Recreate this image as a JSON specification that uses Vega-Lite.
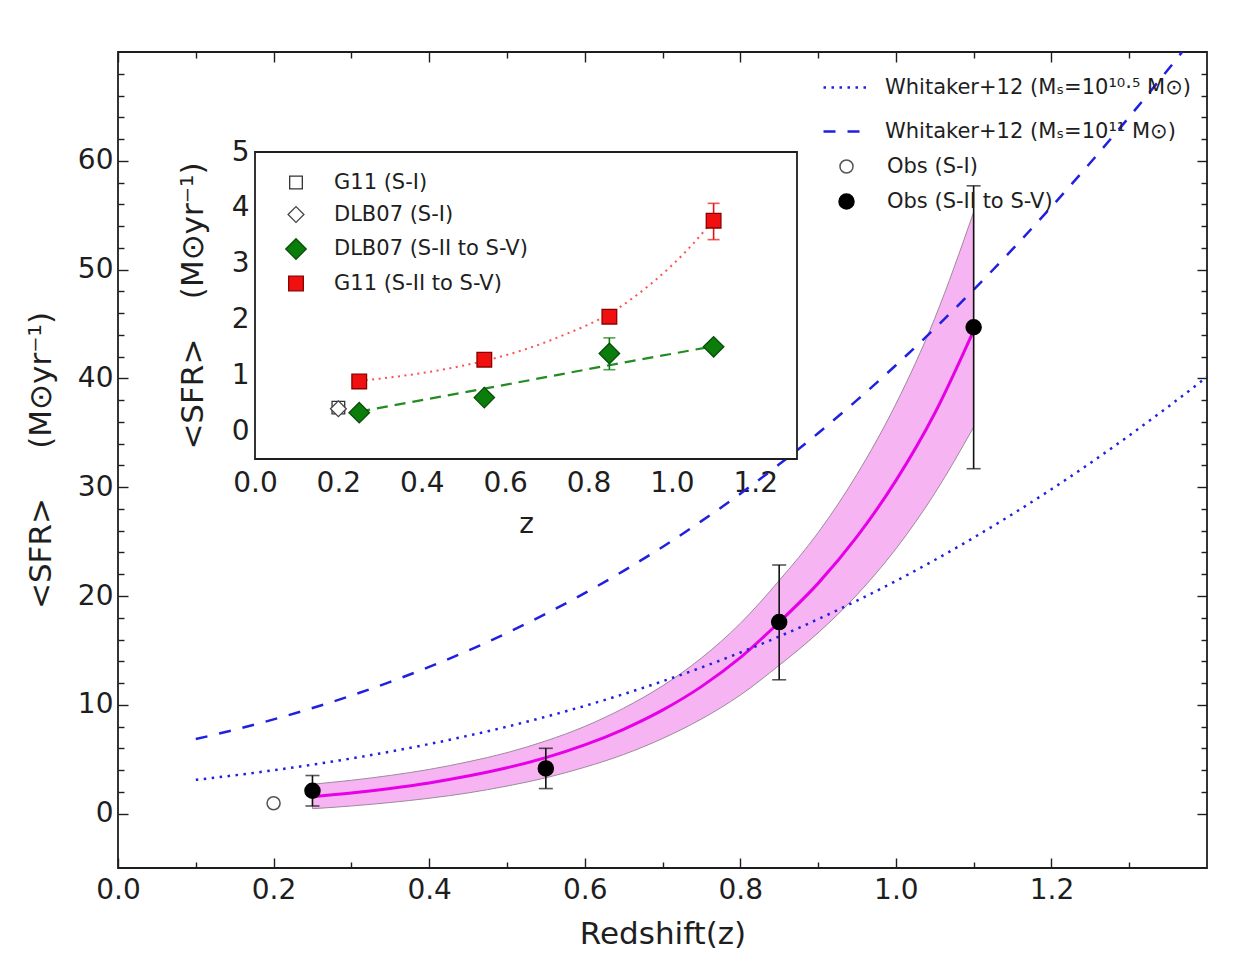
{
  "$schema": "https://vega.github.io/schema/vega-lite/v6.json",
  "width": 1089,
  "height": 816,
  "autosize": {"type": "none"},
  "padding": {"left": 118, "top": 52, "right": 32, "bottom": 112},
  "background": "#ffffff",
  "config": {
    "font": "DejaVu Sans",
    "view": {"stroke": "#1e1e1e", "strokeWidth": 1.8},
    "axis": {
      "grid": false, "domain": false, "zindex": 1,
      "tickColor": "#1e1e1e", "tickWidth": 1.4,
      "labelFont": "DejaVu Sans", "labelFontSize": 28, "labelColor": "#1e1e1e",
      "titleFont": "DejaVu Sans", "titleFontSize": 31, "titleFontWeight": "normal", "titleColor": "#1e1e1e",
      "labelFlush": false, "labelOverlap": false
    },
    "legend": {
      "zindex": 1, "orient": "none", "padding": 0,
      "labelFont": "DejaVu Sans", "labelFontSize": 21, "labelColor": "#1e1e1e", "labelLimit": 400
    }
  },
  "datasets": {
    "whitaker": [
      {"z": 0.10, "m105": 3.105, "m11": 6.849},
      {"z": 0.15, "m105": 3.521, "m11": 7.709},
      {"z": 0.20, "m105": 3.985, "m11": 8.658},
      {"z": 0.25, "m105": 4.499, "m11": 9.703},
      {"z": 0.30, "m105": 5.069, "m11": 10.85},
      {"z": 0.35, "m105": 5.698, "m11": 12.11},
      {"z": 0.40, "m105": 6.392, "m11": 13.48},
      {"z": 0.45, "m105": 7.153, "m11": 14.97},
      {"z": 0.50, "m105": 7.989, "m11": 16.60},
      {"z": 0.55, "m105": 8.903, "m11": 18.36},
      {"z": 0.60, "m105": 9.899, "m11": 20.26},
      {"z": 0.65, "m105": 10.98, "m11": 22.31},
      {"z": 0.70, "m105": 12.16, "m11": 24.51},
      {"z": 0.75, "m105": 13.43, "m11": 26.88},
      {"z": 0.80, "m105": 14.80, "m11": 29.40},
      {"z": 0.85, "m105": 16.28, "m11": 32.10},
      {"z": 0.90, "m105": 17.87, "m11": 34.96},
      {"z": 0.95, "m105": 19.57, "m11": 38.00},
      {"z": 1.00, "m105": 21.38, "m11": 41.21},
      {"z": 1.05, "m105": 23.31, "m11": 44.59},
      {"z": 1.10, "m105": 25.36, "m11": 48.15},
      {"z": 1.15, "m105": 27.53, "m11": 51.88},
      {"z": 1.20, "m105": 29.81, "m11": 55.77},
      {"z": 1.25, "m105": 32.22, "m11": 59.82},
      {"z": 1.30, "m105": 34.75, "m11": 64.03},
      {"z": 1.35, "m105": 37.39, "m11": 68.39},
      {"z": 1.40, "m105": 40.14, "m11": 72.88}
    ],
    "fit": [
      {"z": 0.25, "mid": 1.55, "lower": 0.45, "upper": 2.70},
      {"z": 0.30, "mid": 1.89, "lower": 0.70, "upper": 3.06},
      {"z": 0.35, "mid": 2.31, "lower": 1.02, "upper": 3.51},
      {"z": 0.40, "mid": 2.82, "lower": 1.41, "upper": 4.06},
      {"z": 0.45, "mid": 3.45, "lower": 1.90, "upper": 4.76},
      {"z": 0.50, "mid": 4.21, "lower": 2.53, "upper": 5.60},
      {"z": 0.55, "mid": 5.14, "lower": 3.29, "upper": 6.68},
      {"z": 0.60, "mid": 6.31, "lower": 4.26, "upper": 8.01},
      {"z": 0.65, "mid": 7.75, "lower": 5.43, "upper": 9.69},
      {"z": 0.70, "mid": 9.51, "lower": 6.90, "upper": 11.74},
      {"z": 0.75, "mid": 11.67, "lower": 8.69, "upper": 14.30},
      {"z": 0.80, "mid": 14.33, "lower": 10.89, "upper": 17.48},
      {"z": 0.85, "mid": 17.59, "lower": 13.63, "upper": 21.42},
      {"z": 0.90, "mid": 21.16, "lower": 16.61, "upper": 25.82},
      {"z": 0.95, "mid": 25.45, "lower": 20.11, "upper": 31.18},
      {"z": 1.00, "mid": 30.60, "lower": 24.33, "upper": 37.64},
      {"z": 1.05, "mid": 36.80, "lower": 29.44, "upper": 45.52},
      {"z": 1.10, "mid": 44.40, "lower": 35.52, "upper": 55.28}
    ],
    "obs": [
      {"z": 0.20, "sfr": 0.95, "lo": 0.70, "hi": 1.20, "set": "Obs (S-I)"},
      {"z": 0.25, "sfr": 2.10, "lo": 0.70, "hi": 3.50, "set": "Obs (S-II to S-V)"},
      {"z": 0.55, "sfr": 4.15, "lo": 2.30, "hi": 6.00, "set": "Obs (S-II to S-V)"},
      {"z": 0.85, "sfr": 17.60, "lo": 12.30, "hi": 22.85, "set": "Obs (S-II to S-V)"},
      {"z": 1.10, "sfr": 44.70, "lo": 31.70, "hi": 57.70, "set": "Obs (S-II to S-V)"}
    ],
    "frame": [{"x0": 0, "x1": 1.3, "y0": -0.5, "y1": 5}],
    "g11fit": [
      {"z": 0.25, "v": 0.900}, {"z": 0.30, "v": 0.939}, {"z": 0.35, "v": 0.986},
      {"z": 0.40, "v": 1.039}, {"z": 0.45, "v": 1.101}, {"z": 0.50, "v": 1.174},
      {"z": 0.55, "v": 1.258}, {"z": 0.60, "v": 1.356}, {"z": 0.65, "v": 1.469},
      {"z": 0.70, "v": 1.601}, {"z": 0.75, "v": 1.750}, {"z": 0.80, "v": 1.910},
      {"z": 0.85, "v": 2.100}, {"z": 0.90, "v": 2.350}, {"z": 0.95, "v": 2.640},
      {"z": 1.00, "v": 2.970}, {"z": 1.05, "v": 3.350}, {"z": 1.10, "v": 3.790}
    ],
    "dlbfit": [
      {"z": 0.25, "v": 0.35}, {"z": 0.55, "v": 0.76}, {"z": 0.85, "v": 1.18}, {"z": 1.10, "v": 1.52}
    ],
    "models": [
      {"z": 0.20, "sfr": 0.42, "set": "G11 (S-I)"},
      {"z": 0.20, "sfr": 0.40, "set": "DLB07 (S-I)"},
      {"z": 0.25, "sfr": 0.33, "set": "DLB07 (S-II to S-V)"},
      {"z": 0.55, "sfr": 0.60, "set": "DLB07 (S-II to S-V)"},
      {"z": 0.85, "sfr": 1.39, "set": "DLB07 (S-II to S-V)"},
      {"z": 1.10, "sfr": 1.51, "set": "DLB07 (S-II to S-V)"},
      {"z": 0.25, "sfr": 0.89, "set": "G11 (S-II to S-V)"},
      {"z": 0.55, "sfr": 1.28, "set": "G11 (S-II to S-V)"},
      {"z": 0.85, "sfr": 2.05, "set": "G11 (S-II to S-V)"},
      {"z": 1.10, "sfr": 3.77, "set": "G11 (S-II to S-V)"}
    ],
    "modelerr": [
      {"z": 0.20, "lo": 0.35, "hi": 0.48, "set": "G11 (S-I)"},
      {"z": 0.85, "lo": 1.10, "hi": 1.67, "set": "DLB07 (S-II to S-V)"},
      {"z": 1.10, "lo": 3.43, "hi": 4.08, "set": "G11 (S-II to S-V)"}
    ]
  },
  "layer": [
    {
      "resolve": {"axis": {"x": "independent", "y": "independent"}},
      "layer": [
        {
          "data": {"name": "fit"},
          "mark": {"type": "area", "interpolate": "monotone", "color": "#f7b4f2", "opacity": 1, "stroke": "#9c8a9c", "strokeWidth": 1},
          "encoding": {
            "x": {"field": "z", "type": "quantitative", "scale": {"domain": [0, 1.4], "nice": false, "zero": false},
                  "axis": {"orient": "bottom", "values": [0, 0.2, 0.4, 0.6, 0.8, 1.0, 1.2], "format": ".1f", "tickSize": -10, "labelPadding": 18, "title": "Redshift(z)", "titlePadding": 15}},
            "y": {"field": "lower", "type": "quantitative", "scale": {"domain": [-5, 70], "nice": false, "zero": false},
                  "axis": {"orient": "left", "values": [0, 10, 20, 30, 40, 50, 60], "format": "d", "tickSize": -10, "labelPadding": 15, "title": "<SFR>\u00a0\u00a0\u00a0\u00a0\u00a0(M⊙yr⁻¹)", "titlePadding": 20}},
            "y2": {"field": "upper"}
          }
        },
        {
          "data": {"name": "fit"},
          "mark": {"type": "line", "interpolate": "monotone", "color": "#e600e6", "strokeWidth": 3},
          "encoding": {
            "x": {"field": "z", "type": "quantitative", "scale": {"domain": [0, 1.4], "nice": false, "zero": false},
                  "axis": {"orient": "top", "values": [0, 0.2, 0.4, 0.6, 0.8, 1.0, 1.2], "labels": false, "tickSize": -10, "title": null}},
            "y": {"field": "mid", "type": "quantitative", "scale": {"domain": [-5, 70], "nice": false, "zero": false},
                  "axis": {"orient": "right", "values": [0, 10, 20, 30, 40, 50, 60], "labels": false, "tickSize": -10, "title": null}}
          }
        },
        {
          "data": {"name": "whitaker"},
          "transform": [{"fold": ["m105", "m11"], "as": ["key", "sfr"]}],
          "mark": {"type": "line", "interpolate": "monotone", "color": "#2020e0", "strokeWidth": 2.5, "clip": true},
          "encoding": {
            "x": {"field": "z", "type": "quantitative", "scale": {"domain": [0, 1.4], "nice": false, "zero": false},
                  "axis": {"orient": "bottom", "values": [0.1, 0.3, 0.5, 0.7, 0.9, 1.1, 1.3], "labels": false, "tickSize": -6, "title": null}},
            "y": {"field": "sfr", "type": "quantitative", "scale": {"domain": [-5, 70], "nice": false, "zero": false},
                  "axis": {"orient": "left", "values": [2, 4, 6, 8, 12, 14, 16, 18, 22, 24, 26, 28, 32, 34, 36, 38, 42, 44, 46, 48, 52, 54, 56, 58, 62, 64, 66, 68], "labels": false, "tickSize": -6, "title": null}},
            "strokeDash": {"field": "key", "type": "nominal",
                           "scale": {"domain": ["m105", "m11"], "range": [[2.5, 5.5], [12, 12]]},
                           "legend": {"title": null, "legendX": 704, "legendY": 12, "symbolType": "stroke", "symbolSize": 1936, "symbolStrokeWidth": 2.5, "symbolStrokeColor": "#2020e0", "labelOffset": 16, "rowPadding": 10,
                                      "labelExpr": "datum.value == 'm11' ? 'Whitaker+12 (Mₛ=10¹¹ M⊙)' : 'Whitaker+12 (Mₛ=10¹⁰·⁵ M⊙)'"}}
          }
        },
        {
          "data": {"name": "obs"},
          "mark": {"type": "rule", "color": "#111111", "strokeWidth": 1.6},
          "encoding": {
            "x": {"field": "z", "type": "quantitative", "scale": {"domain": [0, 1.4], "nice": false, "zero": false},
                  "axis": {"orient": "top", "values": [0.1, 0.3, 0.5, 0.7, 0.9, 1.1, 1.3], "labels": false, "tickSize": -6, "title": null}},
            "y": {"field": "lo", "type": "quantitative", "scale": {"domain": [-5, 70], "nice": false, "zero": false},
                  "axis": {"orient": "right", "values": [2, 4, 6, 8, 12, 14, 16, 18, 22, 24, 26, 28, 32, 34, 36, 38, 42, 44, 46, 48, 52, 54, 56, 58, 62, 64, 66, 68], "labels": false, "tickSize": -6, "title": null}},
            "y2": {"field": "hi"}
          }
        },
        {
          "data": {"name": "obs"},
          "transform": [{"filter": "datum.set == 'Obs (S-II to S-V)'"}],
          "layer": [
            {"mark": {"type": "tick", "orient": "horizontal", "size": 14, "thickness": 1.6, "color": "#111111"},
             "encoding": {"y": {"field": "lo", "type": "quantitative", "scale": {"domain": [-5, 70], "nice": false, "zero": false}, "axis": null}}},
            {"mark": {"type": "tick", "orient": "horizontal", "size": 14, "thickness": 1.6, "color": "#111111"},
             "encoding": {"y": {"field": "hi", "type": "quantitative", "scale": {"domain": [-5, 70], "nice": false, "zero": false}, "axis": null}}}
          ],
          "encoding": {"x": {"field": "z", "type": "quantitative", "scale": {"domain": [0, 1.4], "nice": false, "zero": false}, "axis": null}}
        },
        {
          "data": {"name": "obs"},
          "transform": [{"filter": "datum.set == 'Obs (S-I)'"}],
          "layer": [
            {"mark": {"type": "tick", "orient": "horizontal", "size": 8, "thickness": 1.2, "color": "#555555"},
             "encoding": {"y": {"field": "lo", "type": "quantitative", "scale": {"domain": [-5, 70], "nice": false, "zero": false}, "axis": null}}},
            {"mark": {"type": "tick", "orient": "horizontal", "size": 8, "thickness": 1.2, "color": "#555555"},
             "encoding": {"y": {"field": "hi", "type": "quantitative", "scale": {"domain": [-5, 70], "nice": false, "zero": false}, "axis": null}}}
          ],
          "encoding": {"x": {"field": "z", "type": "quantitative", "scale": {"domain": [0, 1.4], "nice": false, "zero": false}, "axis": null}}
        },
        {
          "data": {"name": "obs"},
          "mark": {"type": "circle", "opacity": 1, "strokeWidth": 1.5},
          "encoding": {
            "x": {"field": "z", "type": "quantitative", "scale": {"domain": [0, 1.4], "nice": false, "zero": false}, "axis": null},
            "y": {"field": "sfr", "type": "quantitative", "scale": {"domain": [-5, 70], "nice": false, "zero": false}, "axis": null},
            "fill": {"field": "set", "type": "nominal", "scale": {"domain": ["Obs (S-I)", "Obs (S-II to S-V)"], "range": ["#ffffff", "#000000"]},
                     "legend": {"title": null, "legendX": 718, "legendY": 104, "labelOffset": 30, "rowPadding": 13, "symbolStrokeWidth": 1.5}},
            "stroke": {"field": "set", "type": "nominal", "scale": {"domain": ["Obs (S-I)", "Obs (S-II to S-V)"], "range": ["#555555", "#000000"]},
                       "legend": {"title": null, "legendX": 718, "legendY": 104, "labelOffset": 30, "rowPadding": 13, "symbolStrokeWidth": 1.5}},
            "size": {"field": "set", "type": "nominal", "scale": {"type": "ordinal", "domain": ["Obs (S-I)", "Obs (S-II to S-V)"], "range": [170, 225]},
                     "legend": {"title": null, "legendX": 718, "legendY": 104, "labelOffset": 30, "rowPadding": 13, "symbolStrokeWidth": 1.5}}
          }
        }
      ]
    },
    {
      "resolve": {"axis": {"x": "independent", "y": "independent"}},
      "layer": [
        {
          "data": {"name": "frame"},
          "mark": {"type": "rect", "fill": "#ffffff", "stroke": "#1e1e1e", "strokeWidth": 1.8},
          "encoding": {
            "x": {"field": "x0", "type": "quantitative", "scale": {"domain": [0, 1.3], "range": [137, 679], "nice": false, "zero": false},
                  "axis": {"orient": "bottom", "offset": -409, "values": [0, 0.2, 0.4, 0.6, 0.8, 1.0, 1.2], "format": ".1f", "tickSize": -8, "labelPadding": 18, "title": "z", "titleFontSize": 28, "titlePadding": 13}},
            "x2": {"field": "x1"},
            "y": {"field": "y0", "type": "quantitative", "scale": {"domain": [-0.5, 5], "range": [407, 100], "nice": false, "zero": false},
                  "axis": {"orient": "left", "offset": -137, "values": [0, 1, 2, 3, 4, 5], "format": "d", "tickSize": -8, "labelPadding": 14, "title": "<SFR>\u00a0\u00a0\u00a0\u00a0(M⊙yr⁻¹)", "titlePadding": 22}},
            "y2": {"field": "y1"}
          }
        },
        {
          "data": {"name": "g11fit"},
          "mark": {"type": "line", "interpolate": "monotone", "color": "#ff3030", "opacity": 0.85, "strokeWidth": 2, "strokeDash": [2, 4.5]},
          "encoding": {
            "x": {"field": "z", "type": "quantitative", "scale": {"domain": [0, 1.3], "range": [137, 679], "nice": false, "zero": false},
                  "axis": {"orient": "top", "offset": -100, "values": [0, 0.2, 0.4, 0.6, 0.8, 1.0, 1.2], "labels": false, "tickSize": -8, "title": null}},
            "y": {"field": "v", "type": "quantitative", "scale": {"domain": [-0.5, 5], "range": [407, 100], "nice": false, "zero": false},
                  "axis": {"orient": "right", "offset": -410, "values": [0, 1, 2, 3, 4, 5], "labels": false, "tickSize": -8, "title": null}}
          }
        },
        {
          "data": {"name": "dlbfit"},
          "mark": {"type": "line", "interpolate": "monotone", "color": "#228b22", "strokeWidth": 2.2, "strokeDash": [11, 7]},
          "encoding": {
            "x": {"field": "z", "type": "quantitative", "scale": {"domain": [0, 1.3], "range": [137, 679], "nice": false, "zero": false}, "axis": null},
            "y": {"field": "v", "type": "quantitative", "scale": {"domain": [-0.5, 5], "range": [407, 100], "nice": false, "zero": false}, "axis": null}
          }
        },
        {
          "data": {"name": "modelerr"},
          "encoding": {
            "x": {"field": "z", "type": "quantitative", "scale": {"domain": [0, 1.3], "range": [137, 679], "nice": false, "zero": false}, "axis": null},
            "color": {"field": "set", "type": "nominal", "scale": {"domain": ["G11 (S-I)", "DLB07 (S-II to S-V)", "G11 (S-II to S-V)"], "range": ["#e03030", "#0b7a0b", "#e81010"]}, "legend": null}
          },
          "layer": [
            {"mark": {"type": "rule", "strokeWidth": 1.6},
             "encoding": {"y": {"field": "lo", "type": "quantitative", "scale": {"domain": [-0.5, 5], "range": [407, 100], "nice": false, "zero": false}, "axis": null}, "y2": {"field": "hi"}}},
            {"mark": {"type": "tick", "orient": "horizontal", "size": 12, "thickness": 1.6},
             "encoding": {"y": {"field": "lo", "type": "quantitative", "scale": {"domain": [-0.5, 5], "range": [407, 100], "nice": false, "zero": false}, "axis": null}}},
            {"mark": {"type": "tick", "orient": "horizontal", "size": 12, "thickness": 1.6},
             "encoding": {"y": {"field": "hi", "type": "quantitative", "scale": {"domain": [-0.5, 5], "range": [407, 100], "nice": false, "zero": false}, "axis": null}}}
          ]
        },
        {
          "data": {"name": "models"},
          "mark": {"type": "point", "filled": true, "opacity": 1, "strokeWidth": 1.3},
          "encoding": {
            "x": {"field": "z", "type": "quantitative", "scale": {"domain": [0, 1.3], "range": [137, 679], "nice": false, "zero": false}, "axis": null},
            "y": {"field": "sfr", "type": "quantitative", "scale": {"domain": [-0.5, 5], "range": [407, 100], "nice": false, "zero": false}, "axis": null},
            "shape": {"field": "set", "type": "nominal",
                      "scale": {"domain": ["G11 (S-I)", "DLB07 (S-I)", "DLB07 (S-II to S-V)", "G11 (S-II to S-V)"], "range": ["square", "diamond", "diamond", "square"]},
                      "legend": {"title": null, "legendX": 167, "legendY": 120, "labelOffset": 27, "rowPadding": 10, "symbolStrokeWidth": 1.3}},
            "fill": {"field": "set", "type": "nominal",
                     "scale": {"domain": ["G11 (S-I)", "DLB07 (S-I)", "DLB07 (S-II to S-V)", "G11 (S-II to S-V)"], "range": ["#ffffff", "#ffffff", "#0a7d0a", "#f01010"]},
                     "legend": {"title": null, "legendX": 167, "legendY": 120, "labelOffset": 27, "rowPadding": 10, "symbolStrokeWidth": 1.3}},
            "stroke": {"field": "set", "type": "nominal",
                       "scale": {"domain": ["G11 (S-I)", "DLB07 (S-I)", "DLB07 (S-II to S-V)", "G11 (S-II to S-V)"], "range": ["#333333", "#444444", "#0a4d0a", "#8a0000"]},
                       "legend": {"title": null, "legendX": 167, "legendY": 120, "labelOffset": 27, "rowPadding": 10, "symbolStrokeWidth": 1.3}},
            "size": {"field": "set", "type": "nominal",
                     "scale": {"type": "ordinal", "domain": ["G11 (S-I)", "DLB07 (S-I)", "DLB07 (S-II to S-V)", "G11 (S-II to S-V)"], "range": [160, 250, 420, 215]},
                     "legend": {"title": null, "legendX": 167, "legendY": 120, "labelOffset": 27, "rowPadding": 10, "symbolStrokeWidth": 1.3}}
          }
        }
      ]
    }
  ],
  "resolve": {
    "scale": {"x": "independent", "y": "independent", "fill": "independent", "stroke": "independent", "size": "independent", "shape": "independent", "strokeDash": "independent", "color": "independent"},
    "axis": {"x": "independent", "y": "independent"}
  }
}
